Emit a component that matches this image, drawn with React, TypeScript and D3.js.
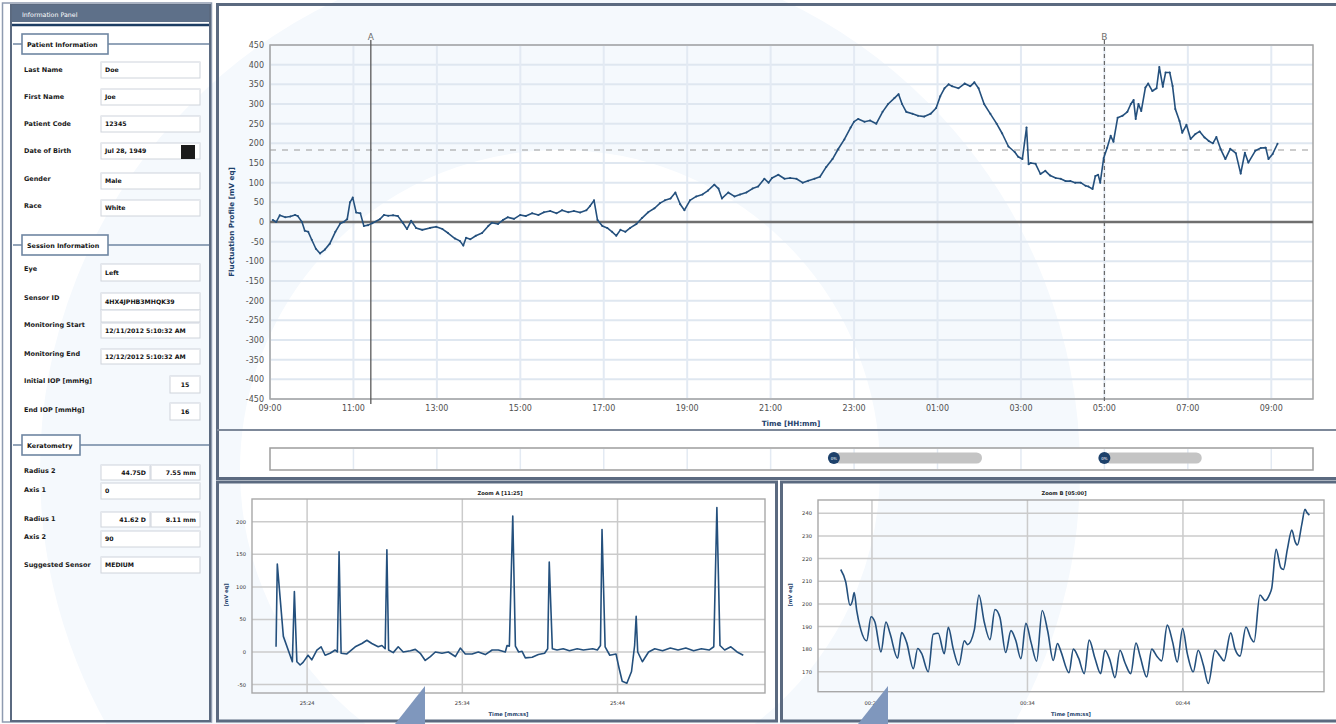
import React from 'react';
import * as d3 from 'd3';

// ---- Fluctuation profile (minutes after 09:00, value in mV eq) ----
const profileMinutes = [
  4, 9, 14, 22, 29, 36, 40, 46, 50, 55,
  60, 66, 72, 79, 86, 94, 101, 106, 111, 115,
  119, 124, 130, 135, 141, 147, 158, 164, 170, 177,
  184, 191, 197, 203, 210, 219, 230, 239, 248, 256,
  266, 273, 278, 282, 288, 296, 305, 314, 319, 328,
  335, 342, 351, 360, 368, 377, 386, 394, 403, 412,
  420, 429, 437, 446, 455, 460, 466, 471, 478, 485,
  492, 498, 504, 511, 518, 527, 535, 544, 553, 561,
  568, 576, 583, 590, 596, 604, 613, 622, 630, 639,
  645, 650, 659, 668, 676, 685, 694, 702, 711, 717,
  722, 731, 740, 748, 757, 766, 774, 783, 791, 800,
  809, 817, 826, 835, 840, 846, 855, 863, 872, 881,
  889, 898, 904, 909, 915, 924, 932, 941, 950, 958,
  964, 970, 976, 981, 990, 999, 1007, 1013, 1019, 1027,
  1036, 1045, 1053, 1062, 1071, 1076, 1082, 1088, 1091, 1094,
  1101, 1108, 1115, 1122, 1130, 1137, 1144, 1151, 1158, 1166,
  1173, 1177, 1183, 1187, 1191, 1194, 1199, 1204, 1209, 1213,
  1219, 1226, 1233, 1238, 1242, 1245, 1249, 1253, 1259, 1263,
  1269, 1275, 1279, 1284, 1288, 1294, 1298, 1302, 1308, 1312,
  1318, 1324, 1331, 1337, 1344, 1350, 1356, 1361, 1367, 1374,
  1381, 1389, 1396, 1402, 1407, 1417, 1425, 1432, 1436, 1442,
  1449,
];
const profileValues = [
  5, 0, 17, 12, 14, 18, 15, 0, -22, -25,
  -45, -68, -80, -70, -55, -25, -4, 0, 7, 50,
  62, 24, 22, -10, -8, -3, 7, 18, 16, 17,
  15, -2, -18, 3, -15, -20, -15, -12, -18, -28,
  -42, -48, -60, -40, -44, -35, -28, -10, -2, -5,
  5, 12, 8, 18, 15, 22, 18, 25, 28, 22,
  30, 25, 28, 24, 30, 40, 55, 5, -10, -15,
  -25, -35, -20, -25, -15, -5, 10, 25, 35, 48,
  55, 60, 75, 45, 30, 55, 65, 70, 80, 95,
  85, 60, 75, 65, 70, 75, 85, 90, 110, 100,
  112, 120, 110, 112, 110, 100, 105, 110, 115, 140,
  160, 185, 210, 240, 255, 262, 255, 258, 250, 280,
  300, 315, 325, 300, 280, 275, 270, 268, 275, 290,
  320, 340, 350, 345, 340, 352, 345, 355, 340, 300,
  275, 250, 225, 192, 178, 166, 160, 240, 147, 150,
  148, 122, 130, 118, 112, 110, 104, 104, 100, 100,
  92, 90, 84, 117, 120, 100, 163, 189, 219, 204,
  265, 270, 280, 300, 310, 262, 300, 282, 342, 352,
  333, 340, 394, 344, 380, 380, 346, 287, 257, 227,
  247, 211, 224, 230, 215, 206, 200, 216, 186, 160,
  186, 175, 123, 176, 151, 181, 188, 189, 160, 173,
  199,
];
const profileTickLabels = ['09:00', '11:00', '13:00', '15:00', '17:00', '19:00', '21:00', '23:00', '01:00', '03:00', '05:00', '07:00', '09:00'];
const profileYTicks = d3.range(-450, 451, 50);
const cursorA = 145; // 11:25
const cursorB = 1200; // 05:00
const referenceLevel = 183;
const sliderStarts = [811, 1200];
const sliderEnds = [1024, 1340];

// ---- Zoom A (seconds, mV eq) ----
const zoomATimes = [
  1522.0, 1522.08, 1522.47, 1523.05, 1523.18, 1523.34, 1523.55, 1523.74, 1524.06, 1524.3,
  1524.63, 1524.9, 1525.16, 1525.48, 1525.81, 1525.95, 1526.06, 1526.19, 1526.56, 1527.1,
  1527.53, 1527.85, 1528.17, 1528.58, 1528.82, 1529.03, 1529.14, 1529.25, 1529.55, 1529.87,
  1530.19, 1530.65, 1530.97, 1531.29, 1531.61, 1531.94, 1532.26, 1532.69, 1533.1, 1533.55,
  1533.87, 1534.19, 1534.63, 1535.03, 1535.48, 1535.92, 1536.32, 1536.77, 1536.88, 1537.03,
  1537.25, 1537.42, 1537.63, 1537.85, 1538.06, 1538.5, 1538.9, 1539.3, 1539.5, 1539.6,
  1539.8, 1540.1, 1540.5, 1540.9, 1541.4, 1541.8, 1542.4, 1542.7, 1542.9, 1543.0,
  1543.2, 1543.5, 1543.9, 1544.1, 1544.3, 1544.6, 1544.9, 1545.1, 1545.2, 1545.3,
  1545.6, 1546.0, 1546.4, 1546.9, 1547.4, 1547.9, 1548.4, 1548.9, 1549.4, 1549.9,
  1550.2, 1550.4, 1550.6, 1550.9, 1551.3, 1551.7, 1552.1,
];
const zoomAValues = [
  8, 135, 24, -15, 93, -15, -20, -16, -5, -12,
  3, 8, -5, -2, 3, 0, 154, -2, -3, 8,
  13, 18, 13, 8, 10, 5, 157, 3, -1, 8,
  0, 2, 4, -2, -13, -7, 0, -2, 0, -7,
  6, -3, -3, 0, -4, 3, 3, 0, 10, 9,
  209, 9, 0, 1, -9, -8, -4, -2, 5, 138,
  5, 3, 5, 2, 5, 3, 5, 3, 10, 188,
  8, -5, -3, -25, -45, -48, -30, 10, 55, 0,
  -15, 0, 5, 2, 6, 3, 6, 2, 5, 3,
  8, 222, 10, 3, 8, 0, -5,
];
const zoomATickSeconds = [1524, 1534, 1544];
const zoomATickLabels = ['25:24', '25:34', '25:44'];
const zoomAYTicks = [-50, 0, 50, 100, 150, 200];

// ---- Zoom B (seconds, mV eq) ----
const zoomBTimes = [
  21.99, 22.31, 22.59, 22.73, 22.86, 23.02, 23.29, 23.66, 23.94, 24.19,
  24.58, 24.9, 25.16, 25.65, 25.91, 26.23, 26.66, 26.94, 27.2, 27.62,
  27.94, 28.26, 28.65, 28.91, 29.23, 29.59, 29.94, 30.15, 30.58, 30.88,
  31.22, 31.59, 31.91, 32.23, 32.6, 32.94, 33.24, 33.58, 33.9, 34.23,
  34.59, 34.95, 35.3, 35.66, 35.93, 36.15, 36.67, 36.95, 37.29, 37.65,
  37.97, 38.34, 38.71, 38.98, 39.31, 39.63, 39.95, 40.27, 40.64, 40.98,
  41.24, 41.67, 41.99, 42.31, 42.63, 42.99, 43.34, 43.63, 43.98, 44.28,
  44.66, 44.98, 45.31, 45.63, 46.06, 46.38, 46.64, 47.07, 47.35, 47.67,
  48.05, 48.36, 48.57, 48.95, 49.28, 49.55, 49.71, 49.99, 50.29, 50.46,
  50.71, 51.0, 51.21, 51.36, 51.64, 51.85, 51.96, 52.13,
];
const zoomBValues = [
  215.2, 209.8, 199.4, 201, 205, 197, 188.4, 183.7, 194.3, 192,
  178.8, 192, 187, 176, 187.3, 183, 171.4, 180.3, 178, 170,
  186.6, 187, 178, 189.6, 180, 172.9, 183.7, 182, 188.4, 203.9,
  192, 184.2, 197.5, 194, 178.5, 188.2, 184, 175.8, 191.4, 183,
  174.7, 197.1, 188, 175, 182.5, 179, 169.6, 180, 176, 169.2,
  184, 176, 169.2, 179.5, 175, 167.4, 179.5, 174, 169.2, 182.7,
  177, 167.7, 180, 177, 174.8, 190.6, 183, 174.3, 189.1, 178,
  170, 179.5, 173, 164.8, 179.5, 177, 174.8, 187.2, 180, 176.9,
  189.8, 185, 183.2, 203.9, 201.5, 203.9, 207, 224.1, 216, 215.2,
  224, 232.6, 227.5, 226, 235, 241.8, 240.5, 239.2,
];
const zoomBTickSeconds = [24, 34, 44];
const zoomBTickLabels = ['00:24', '00:34', '00:44'];
const zoomBYTicks = [170, 180, 190, 200, 210, 220, 230, 240];

// ---- Information panel ----
const patientLabels = ['Last Name', 'First Name', 'Patient Code', 'Date of Birth', 'Gender', 'Race'];
const patientValues = ['Doe', 'Joe', '12345', 'Jul 28, 1949', 'Male', 'White'];
const sessionLabels = ['Eye', 'Sensor ID', 'Monitoring Start', 'Monitoring End', 'Initial IOP [mmHg]', 'End IOP [mmHg]'];
const sessionValues = ['Left', '4HX4JPHB3MHQK39', '12/11/2012 5:10:32 AM', '12/12/2012 5:10:32 AM', '15', '16'];
const keratoLabels = ['Radius 2', 'Axis 1', 'Radius 1', 'Axis 2', 'Suggested Sensor'];
const keratoDiopters = ['44.75D', '', '41.62 D', '', ''];
const keratoMillimetres = ['7.55 mm', '', '8.11 mm', '', ''];
const keratoValues = ['', '0', '', '90', 'MEDIUM'];

const FONT = "'DejaVu Sans', Verdana, sans-serif";
const NAVY = '#1d416b';
const LINE = '#24507d';
const BORDER = '#5b6a80';
const GROUP = '#6f86a2';

function InputBox({ x, y, w, h, text, anchor = 'start' }: { x: number; y: number; w: number; h: number; text?: string; anchor?: string }) {
  const tx = anchor === 'end' ? x + w - 4 : anchor === 'middle' ? x + w / 2 : x + 4;
  return (
    <g>
      <rect x={x} y={y} width={w} height={h} fill="#ffffff" stroke="#cfd4db" strokeWidth={1} />
      <line x1={x} y1={y + 0.5} x2={x + w} y2={y + 0.5} stroke="#e6e9ee" />
      {text ? (
        <text x={tx} y={y + h / 2 + 2.3} fontSize={6.2} fontWeight="bold" fill="#111" textAnchor={anchor as any}>
          {text}
        </text>
      ) : null}
    </g>
  );
}

function GroupHeader({ y, w, title }: { y: number; w: number; title: string }) {
  return (
    <g>
      <line x1={13} y1={y} x2={209} y2={y} stroke={GROUP} strokeWidth={1.5} />
      <rect x={22} y={y - 10} width={w} height={20} fill="#ffffff" stroke={GROUP} strokeWidth={1.6} />
      <text x={27} y={y + 2.5} fontSize={6.4} fontWeight="bold" fill="#111">
        {title}
      </text>
    </g>
  );
}

function Label({ y, text }: { y: number; text: string }) {
  return (
    <text x={24} y={y + 2.4} fontSize={6.5} fontWeight="bold" fill="#1a1a1a">
      {text}
    </text>
  );
}

function InfoPanel() {
  const patientRows = [70, 97, 124, 151, 179, 206];
  const patientBoxes = [62, 89, 116, 143, 173, 200];
  const sessionRows = [269, 298, 325, 354, 381, 410];
  const sessionBoxes = [264, 293, 323, 349, 376, 403];
  const keratoRows = [471, 490, 519, 537, 565];
  const keratoBoxes = [465, 483, 512, 531, 557];
  return (
    <g fontFamily={FONT}>
      <rect x={2.5} y={3} width={209} height={719} fill="none" stroke="#8e9bb0" strokeWidth={1.5} />
      <rect x={11} y={5} width={199} height={716} fill="none" stroke={BORDER} strokeWidth={2} />
      <rect x={12} y={5} width={197} height={17} fill="#5e7089" />
      <text x={22} y={16.5} fontSize={6.3} fill="#ffffff">Information Panel</text>
      <line x1={12} y1={25} x2={209} y2={25} stroke="#1d3d63" strokeWidth={2.5} />

      <GroupHeader y={44} w={86} title="Patient Information" />
      {patientLabels.map((l, i) => (
        <g key={l}>
          <Label y={patientRows[i]} text={l} />
          <InputBox x={101} y={patientBoxes[i]} w={99} h={16} text={patientValues[i]} />
        </g>
      ))}
      <rect x={181} y={145} width={14} height={14} fill="#1b1b1b" />

      <GroupHeader y={245} w={86} title="Session Information" />
      {sessionLabels.map((l, i) => {
        const small = i >= 4;
        return (
          <g key={l}>
            <Label y={sessionRows[i]} text={l} />
            <InputBox
              x={small ? 170 : 101}
              y={sessionBoxes[i]}
              w={small ? 30 : 99}
              h={i === 2 || i === 3 ? 15 : 17}
              text={sessionValues[i]}
              anchor={small ? 'middle' : 'start'}
            />
          </g>
        );
      })}
      <InputBox x={101} y={310} w={99} h={12} />

      <GroupHeader y={445} w={58} title="Keratometry" />
      {keratoLabels.map((l, i) => (
        <g key={l}>
          <Label y={keratoRows[i]} text={l} />
          {keratoDiopters[i] ? (
            <>
              <InputBox x={101} y={keratoBoxes[i]} w={49} h={15} text={keratoDiopters[i]} anchor="end" />
              <InputBox x={151} y={keratoBoxes[i]} w={49} h={15} text={keratoMillimetres[i]} anchor="end" />
            </>
          ) : (
            <InputBox x={101} y={keratoBoxes[i]} w={99} h={16} text={keratoValues[i]} />
          )}
        </g>
      ))}
    </g>
  );
}

function MainChart() {
  const x = d3.scaleLinear().domain([0, 1500]).range([270, 1313]);
  const y = d3.scaleLinear().domain([-450, 450]).range([399, 45]);
  const tickMinutes = profileTickLabels.map((_, i) => i * 120);
  const line = d3
    .line<number>()
    .x((_, i) => x(profileMinutes[i]))
    .y((v) => y(v));
  const [x0, x1] = x.range();
  const [yb, yt] = y.range();
  return (
    <g fontFamily={FONT}>
      {profileYTicks.map((t) => (
        <line key={'h' + t} x1={x0} x2={x1} y1={y(t)} y2={y(t)} stroke="#dfe7f0" strokeWidth={2} />
      ))}
      {tickMinutes.map((t) => (
        <line key={'v' + t} x1={x(t)} x2={x(t)} y1={yt} y2={yb} stroke="#e3eaf3" strokeWidth={2} />
      ))}
      <rect x={x0} y={yt} width={x1 - x0} height={yb - yt} fill="none" stroke="#a3a3a3" strokeWidth={1.5} />
      <line x1={x0} x2={x1} y1={y(referenceLevel)} y2={y(referenceLevel)} stroke="#9a9a9a" strokeWidth={1.2} strokeDasharray="6,6" />
      <line x1={x0} x2={x1} y1={y(0)} y2={y(0)} stroke="#6f6f6f" strokeWidth={2.5} />

      <line x1={x(cursorA)} x2={x(cursorA)} y1={yt - 5} y2={yb + 5} stroke="#5a5a5a" strokeWidth={1.3} />
      <text x={x(cursorA)} y={40} fontSize={9} fill="#707070" textAnchor="middle">A</text>
      <line x1={x(cursorB)} x2={x(cursorB)} y1={yt - 5} y2={yb + 5} stroke="#6a6a6a" strokeWidth={1.2} strokeDasharray="4,3" />
      <text x={x(cursorB)} y={40} fontSize={9} fill="#707070" textAnchor="middle">B</text>

      <path d={line(profileValues) || ''} fill="none" stroke={LINE} strokeWidth={1.6} strokeLinejoin="round" />
      {profileValues.map((v, i) => (
        <circle key={i} cx={x(profileMinutes[i])} cy={y(v)} r={1} fill={LINE} />
      ))}

      {profileYTicks.map((t) => (
        <text key={'yl' + t} x={264} y={y(t) + 3} fontSize={8} fill="#505050" textAnchor="end">
          {t}
        </text>
      ))}
      {tickMinutes.map((t, i) => (
        <text key={'xl' + t} x={x(t)} y={411} fontSize={8} fill="#505050" textAnchor="middle">
          {profileTickLabels[i]}
        </text>
      ))}
      <text transform={`translate(234,${y(0)}) rotate(-90)`} fontSize={7.2} fontWeight="bold" fill={NAVY} textAnchor="middle">
        Fluctuation Profile [mV eq]
      </text>
      <text x={791} y={426} fontSize={7.2} fontWeight="bold" fill={NAVY} textAnchor="middle">
        Time [HH:mm]
      </text>

      <line x1={217} x2={1336} y1={430} y2={430} stroke="#7d8899" strokeWidth={2} />

      {/* range slider */}
      <rect x={x0} y={448} width={x1 - x0} height={22} fill="#ffffff" stroke="#9d9d9d" strokeWidth={1.5} />
      {tickMinutes.slice(1).map((t) => (
        <line key={'s' + t} x1={x(t)} x2={x(t)} y1={449} y2={469} stroke="#e3eaf3" strokeWidth={1.5} />
      ))}
      {sliderStarts.map((s, i) => (
        <g key={'sl' + i}>
          <rect x={x(s)} y={452.5} width={x(sliderEnds[i]) - x(s)} height={11} rx={5.5} fill="#c4c4c4" />
          <circle cx={x(s)} cy={458} r={6} fill={NAVY} />
          <text x={x(s)} y={459.5} fontSize={4} fill="#ffffff" textAnchor="middle">0%</text>
        </g>
      ))}
    </g>
  );
}

type ZoomProps = {
  title: string;
  titleX: number;
  times: number[];
  values: number[];
  xDomain: [number, number];
  xRange: [number, number];
  yDomain: [number, number];
  yRange: [number, number];
  xTicks: number[];
  xTickLabels: string[];
  yTicks: number[];
  yTitleX: number;
  smooth: boolean;
};

function ZoomChart(p: ZoomProps) {
  const x = d3.scaleLinear().domain(p.xDomain).range(p.xRange);
  const y = d3.scaleLinear().domain(p.yDomain).range(p.yRange);
  const line = d3
    .line<number>()
    .x((_, i) => x(p.times[i]))
    .y((v) => y(v))
    .curve(p.smooth ? d3.curveMonotoneX : d3.curveLinear);
  const [x0, x1] = p.xRange;
  const [yb, yt] = p.yRange;
  return (
    <g fontFamily={FONT}>
      <text x={p.titleX} y={495} fontSize={5.2} fontWeight="bold" fill="#222" textAnchor="middle">
        {p.title}
      </text>
      {p.yTicks.map((t) => (
        <line key={'h' + t} x1={x0} x2={x1} y1={y(t)} y2={y(t)} stroke="#cbcbcb" strokeWidth={1.5} />
      ))}
      {p.xTicks.map((t) => (
        <line key={'v' + t} x1={x(t)} x2={x(t)} y1={yt} y2={yb} stroke="#cbcbcb" strokeWidth={1.5} />
      ))}
      <rect x={x0} y={yt} width={x1 - x0} height={yb - yt} fill="none" stroke="#a8a8a8" strokeWidth={1.4} />
      <path d={line(p.values) || ''} fill="none" stroke={LINE} strokeWidth={1.6} strokeLinejoin="round" />
      {p.yTicks.map((t) => (
        <text key={'yl' + t} x={x0 - 6} y={y(t) + 2} fontSize={5.2} fill="#333" textAnchor="end">
          {t}
        </text>
      ))}
      {p.xTicks.map((t, i) => (
        <text key={'xl' + t} x={x(t)} y={705} fontSize={5.2} fill="#333" textAnchor="middle">
          {p.xTickLabels[i]}
        </text>
      ))}
      <text transform={`translate(${p.yTitleX},595) rotate(-90)`} fontSize={5.2} fontWeight="bold" fill={NAVY} textAnchor="middle">
        [mV eq]
      </text>
      <text x={(x0 + x1) / 2} y={716} fontSize={5.2} fontWeight="bold" fill={NAVY} textAnchor="middle">
        Time [mm:ss]
      </text>
    </g>
  );
}

export default function App() {
  return (
    <svg width={1336} height={724} style={{ position: 'absolute', left: 0, top: 0, background: '#ffffff' }}>
      <defs>
        <clipPath id="pageClip">
          <rect x={0} y={0} width={1336} height={724} />
        </clipPath>
      </defs>
      {/* pale background swoosh */}
      <g clipPath="url(#pageClip)">
        <circle cx={560} cy={470} r={420} fill="none" stroke="#f5f9fd" strokeWidth={200} />
      </g>

      <InfoPanel />

      {/* panel frames */}
      <rect x={217.5} y={4.5} width={1121} height={474} fill="none" stroke={BORDER} strokeWidth={3} />
      <rect x={217.5} y={482} width={559} height={239} fill="none" stroke={BORDER} strokeWidth={3} />
      <rect x={781.5} y={482} width={557} height={239} fill="none" stroke={BORDER} strokeWidth={3} />

      <MainChart />

      <ZoomChart
        title="Zoom A [11:25]"
        titleX={500}
        times={zoomATimes}
        values={zoomAValues}
        xDomain={[1520.45, 1553.5]}
        xRange={[252, 765]}
        yDomain={[-63, 235]}
        yRange={[693, 499]}
        xTicks={zoomATickSeconds}
        xTickLabels={zoomATickLabels}
        yTicks={zoomAYTicks}
        yTitleX={228}
        smooth={false}
      />
      <ZoomChart
        title="Zoom B [05:00]"
        titleX={1064}
        times={zoomBTimes}
        values={zoomBValues}
        xDomain={[20.53, 53.07]}
        xRange={[818, 1324]}
        yDomain={[161.2, 245.9]}
        yRange={[691.7, 500]}
        xTicks={zoomBTickSeconds}
        xTickLabels={zoomBTickLabels}
        yTicks={zoomBYTicks}
        yTitleX={792}
        smooth={true}
      />

      <polygon points="395,724 425,686 425,724" fill="#7f97bd" />
      <polygon points="858,724 888,686 888,724" fill="#7f97bd" />
    </svg>
  );
}
